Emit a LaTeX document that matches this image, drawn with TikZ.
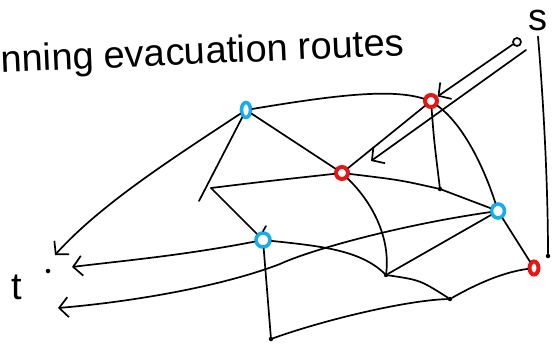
\documentclass[tikz,border=0pt]{standalone}
\usepackage{fontspec}
\setmainfont{Liberation Sans}
\usetikzlibrary{arrows.meta,shapes.geometric}
\definecolor{sred}{RGB}{235,20,20}
\definecolor{sblue}{RGB}{20,175,235}
\begin{document}
\begin{tikzpicture}[x=1pt,y=-1pt,
  edge/.style={line width=1.7pt,line cap=round},
  arr/.style={edge,-{Straight Barb[length=9pt,width=20pt,line width=1.7pt]}},
  rednode/.style={circle,draw=sred,line width=4pt,minimum size=12pt,inner sep=0pt},
  bluenode/.style={ellipse,draw=sblue,line width=3.6pt,minimum width=9pt,minimum height=15pt,inner sep=0pt},
  dotnode/.style={circle,fill=black,minimum size=4.5pt,inner sep=0pt},
  snode/.style={circle,draw=black,line width=1.7pt,minimum size=8pt,inner sep=0pt},
  lbl/.style={inner sep=0pt,font=\fontsize{38}{44}\selectfont}
]
\useasboundingbox (0,0) rectangle (555,345);
\fill[white] (0,0) rectangle (555,345);

% title
\node[lbl,anchor=base,rotate=2.5] (title) at (203,64) {nning evacuation routes};

% nodes
\node[snode] (s) at (517,42) {};
\node[lbl] (slabel) at (538,20) {s};
\node[lbl] (t) at (17,287) {t};
\node[dotnode] (tdot) at (48,271) {};
\node[rednode] (A) at (431,101) {};
\node[bluenode] (B) at (246,110) {};
\node[rednode] (C) at (342,173) {};
\node[dotnode] (D) at (440,189) {};
\node[bluenode,minimum width=13pt,minimum height=14pt] (E) at (498,211) {};
\coordinate (F) at (211,188);
\coordinate (Fend) at (199,201);
\node[bluenode,minimum width=14pt,minimum height=14pt] (G) at (263,240) {};
\node[dotnode] (H) at (386,275) {};
\node[dotnode] (I) at (450,299) {};
\node[rednode,ellipse,minimum width=9pt,minimum height=13pt] (J) at (534,268) {};
\node[dotnode] (K) at (548,256) {};
\node[dotnode] (L) at (271,339) {};
\coordinate (s2) at (526,50);
\coordinate (sc) at (371,161);
\coordinate (t1) at (55,255);
\coordinate (t2) at (72,267);
\coordinate (t3) at (58,308);
\coordinate (gtop) at (266,226);

% edges
\draw[edge] (B) .. controls (330,96) and (390,88) .. (A);
\draw[edge] (A) -- (C);
\draw[edge] (A) .. controls (434,140) .. (D);
\draw[edge] (A) .. controls (468,128) and (488,180) .. (E);
\draw[edge] (B) -- (C);
\draw[edge] (B) -- (Fend);
\draw[edge] (F) .. controls (260,182) .. (C);
\draw[edge] (F) -- (G);
\draw[edge] (C) .. controls (400,180) .. (D);
\draw[edge] (C) .. controls (375,205) and (390,240) .. (H);
\draw[edge] (D) -- (E);
\draw[edge] (E) -- (H);
\draw[edge] (E) -- (J);
\draw[edge] (G) .. controls (320,246) and (360,250) .. (H);
\draw[edge] (H) .. controls (420,280) .. (I);
\draw[edge] (I) .. controls (480,282) and (505,272) .. (J);
\draw[edge] (L) .. controls (330,318) and (410,300) .. (I);
\draw[edge] (G) -- (L);
\draw[edge] (gtop) -- (G.north);
\draw[edge] (slabel.south) ++(0,6) .. controls (545,120) and (548,200) .. (K);

% arrows
\draw[arr] (s.210) -- (A);
\draw[arr] (s2) -- (sc);
\draw[arr] (B) .. controls (170,160) and (100,205) .. (t1);
\draw[arr] (G) .. controls (180,256) and (120,261) .. (t2);
\draw[arr] (E) .. controls (400,225) and (310,250) .. (280,264) .. controls (220,287) and (130,302) .. (t3);
\end{tikzpicture}
\end{document}
